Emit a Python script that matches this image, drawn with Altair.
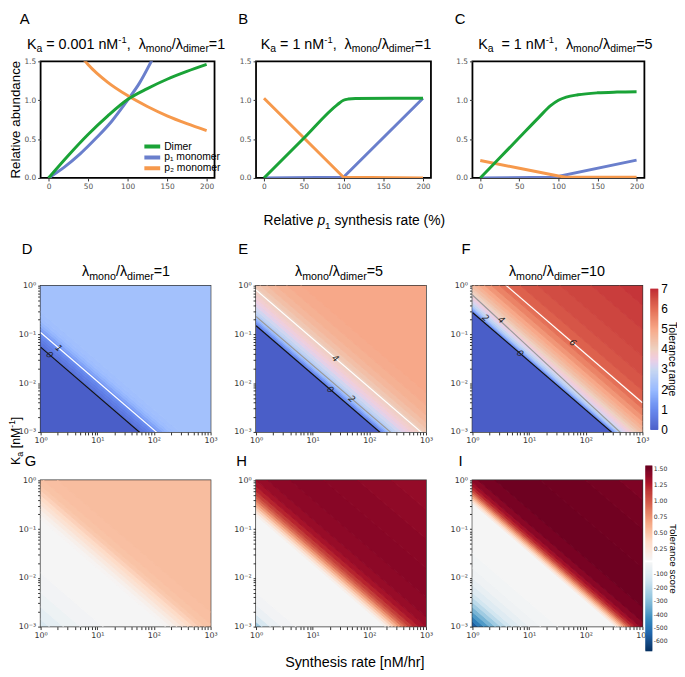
import altair as alt
import pandas as pd

FONT = "Liberation Sans"
TFONT = "DejaVu Sans"

# ================= Panels A-C : relative abundance =================
SERIES = ["Dimer", "p₁ monomer", "p₂ monomer"]
LINE_COLORS = ["#1aa337", "#6a7fcc", "#f6994c"]

A_dimer_rate = [0, 25, 50, 75, 100, 125, 150, 175, 200]
A_dimer = [0.0, 0.29, 0.56, 0.80, 1.01, 1.15, 1.27, 1.37, 1.46]
A_p1_rate = [0, 20, 40, 60, 80, 100, 115, 131]
A_p1 = [0.0, 0.14, 0.31, 0.51, 0.73, 1.00, 1.22, 1.52]
A_p2_rate = [45, 50, 75, 100, 125, 150, 175, 200]
A_p2 = [1.52, 1.46, 1.23, 1.06, 0.92, 0.80, 0.70, 0.61]

B_dimer_rate = [0, 50, 92, 100, 106, 115, 200]
B_dimer = [0.0, 0.51, 0.94, 1.0, 1.015, 1.022, 1.025]
B_p1_rate = [0, 100, 200]
B_p1 = [0.0, 0.01, 1.025]
B_p2_rate = [0, 100, 200]
B_p2 = [1.025, 0.01, 0.0]

C_dimer_rate = [0, 25, 50, 75, 90, 100, 110, 125, 150, 175, 200]
C_dimer = [0.0, 0.26, 0.52, 0.78, 0.93, 1.00, 1.04, 1.07, 1.095, 1.105, 1.11]
C_p1_rate = [0, 95, 200]
C_p1 = [0.0, 0.01, 0.23]
C_p2_rate = [0, 50, 100, 110, 200]
C_p2 = [0.225, 0.125, 0.025, 0.01, 0.01]

# ================= Panels D-F : tolerance range (bands along log-diagonal) =================
D_edges = [-3.1, -1.26, -1.20, -1.14, -1.08, -1.02, -0.96, -0.90, -0.84, -0.78, -0.72, -0.64, -0.54, 3.1]
D_vals = [0.0, 0.45, 0.6, 0.75, 0.9, 1.05, 1.3, 1.55, 1.8, 1.95, 2.08, 2.15, 2.2]
E_edges = [-3.1, -0.82, -0.78, -0.74, -0.70, -0.66, -0.62, -0.56, -0.50, -0.42, -0.34, -0.26, -0.18,
           -0.10, -0.02, 0.08, 0.20, 0.35, 0.55, 0.80, 3.1]
E_vals = [0.0, 0.7, 1.1, 1.5, 1.9, 2.3, 2.6, 2.85, 3.1, 3.35, 3.55, 3.75, 3.9, 4.05, 4.25, 4.45,
          4.65, 4.8, 4.92, 5.0]
F_edges = [-3.1, -0.55, -0.52, -0.49, -0.46, -0.43, -0.39, -0.34, -0.28, -0.22, -0.16, -0.10, -0.04,
           0.04, 0.12, 0.22, 0.34, 0.48, 0.64, 0.85, 1.15, 1.55, 2.1, 2.6, 3.1]
F_vals = [0.0, 0.7, 1.2, 1.7, 2.2, 2.6, 2.95, 3.25, 3.5, 3.75, 4.0, 4.25, 4.5, 4.75, 5.0, 5.3, 5.6,
          5.9, 6.15, 6.35, 6.5, 6.62, 6.74, 6.85]

D_cont_s = [-1.26, -0.96]
D_cont_lab = ["0", "1"]
D_cont_kind = ["zero", "high"]
E_cont_s = [-0.82, -0.63, -0.09]
E_cont_lab = ["0", "2", "4"]
E_cont_kind = ["zero", "mid", "high"]
F_cont_s = [-0.55, -0.43, -0.19, 0.60]
F_cont_lab = ["0", "2", "4", "6"]
F_cont_kind = ["zero", "mid", "mid", "high"]

# ================= Panels G-I : tolerance score =================
G_neg_edges = [-3.1, -2.85, -2.6, -2.3, -1.9, -0.8]
G_neg_vals = [-110, -70, -40, -25, -12]
G_pos_edges = [-0.8, -0.7, -0.6, -0.5, -0.4, -0.3, -0.2, -0.1, 0.05, 0.3, 3.1]
G_pos_vals = [0.1, 0.15, 0.22, 0.3, 0.37, 0.43, 0.48, 0.51, 0.53, 0.54]

H_neg_edges = [-3.1, -2.9, -2.75, -2.55, -2.3, -0.72]
H_neg_vals = [-250, -120, -50, -25, -12]
H_pos_edges = [-0.72, -0.66, -0.60, -0.54, -0.48, -0.42, -0.36, -0.30, -0.22, -0.12, 0.0, 0.2, 0.6,
               1.2, 1.8, 2.4, 3.1]
H_pos_vals = [0.15, 0.3, 0.45, 0.6, 0.75, 0.9, 1.02, 1.13, 1.23, 1.31, 1.37, 1.41, 1.43, 1.42, 1.40, 1.38]

I_neg_edges = [-3.1, -2.9, -2.8, -2.7, -2.6, -2.5, -2.4, -2.3, -2.15, -2.0, -1.8, -1.5, -0.47]
I_neg_vals = [-560, -470, -390, -320, -250, -190, -140, -95, -60, -35, -22, -12]
I_pos_edges = [-0.47, -0.43, -0.39, -0.35, -0.31, -0.27, -0.23, -0.18, -0.12, -0.04, 0.1, 0.4, 1.2,
               2.0, 2.6, 3.1]
I_pos_vals = [0.2, 0.35, 0.5, 0.65, 0.8, 0.95, 1.1, 1.23, 1.33, 1.42, 1.49, 1.53, 1.52, 1.5, 1.47]

# ================= scales / colours =================
CW_DOMAIN = [0, 1, 2, 3, 4, 5, 6, 7]
CW_RANGE = ["#4a5ec8", "#6788ee", "#9abbff", "#c9d7f0", "#edd1c2", "#f7a889", "#e26952", "#c02a35"]
POS_DOMAIN = [0.08, 0.376, 0.672, 0.968, 1.264, 1.56]
POS_RANGE = ["#f5f5f5", "#fddbc7", "#f4a582", "#d6604d", "#b2182b", "#67001f"]
NEG_DOMAIN = [-673, -540.8, -408.6, -276.4, -144.2, -12]
NEG_RANGE = ["#053061", "#2166ac", "#4393c3", "#92c5de", "#d1e5f0", "#f5f5f5"]
CONT_COLORS = {"zero": "#111111", "mid": "#9a9a9a", "high": "#ffffff"}

# colourbar tick labels
RANGE_TICKS = [0, 1, 2, 3, 4, 5, 6, 7]
POS_TICKS = [0.25, 0.5, 0.75, 1.0, 1.25, 1.5]
NEG_TICKS = [-100, -200, -300, -400, -500, -600]

# ---------------- geometry (layout only) ----------------
W_A, W_B, W_C, H_TOP = 176, 177, 174, 118
W_H, H_H = 172, 148

# ---------------- text helpers ----------------
CW_ = {' ': 278, '=': 584, '.': 278, ',': 278, '/': 278, '-': 333, '(': 333, ')': 333, '%': 889,
       '[': 278, ']': 278, 'K': 667, 'M': 833, 'R': 722, 'S': 667, 'T': 611, 'λ': 500,
       'a': 556, 'b': 556, 'c': 500, 'd': 556, 'e': 556, 'g': 556, 'h': 556, 'i': 222, 'l': 222,
       'm': 833, 'n': 556, 'o': 556, 'p': 556, 'r': 333, 's': 500, 't': 278, 'u': 556, 'v': 500,
       'y': 500}


def tw(t, size):
    return sum(CW_.get(c, 556) for c in t) * size / 1000.0


def text_chart(t, x, y, size, angle=0, italic=False, color="black", font=FONT):
    kw = dict(text=t, fontSize=size, font=font, align="left", baseline="alphabetic",
              color=color, fontStyle="italic" if italic else "normal")
    if angle:
        kw["angle"] = angle
    return alt.Chart(alt.Data(values=[{}])).mark_text(**kw).encode(x=alt.value(x), y=alt.value(y))


def segs(parts, cx, by, angle=0):
    total = sum(g + tw(t, s) for (t, s, sh, g, it) in parts)
    pos = -total / 2.0
    out = []
    for t, s, sh, g, it in parts:
        pos += g
        if angle == 0:
            x, y = cx + pos, by + sh
        elif angle == 270:
            x, y = by + sh, cx - pos
        else:
            x, y = by - sh, cx + pos
        out.append(text_chart(t, x, y, s, angle, it))
        pos += tw(t, s)
    return out


def ka_title(kval, ratio, big=14.5, small=10.5, extra=0.0):
    sp = big * 0.278
    return [("K", big, 0, 0, False), ("a", small, 4, 0, False),
            ("= " + kval + " nM", big, 0, sp + extra, False), ("-1", small - 1, -6, 0, False),
            (",", big, 0, 0, False), ("λ", big, 0, 2 * sp, False), ("mono", small, 4, 0, False),
            ("/λ", big, 0, 0, False), ("dimer", small, 4, 0, False), ("=" + ratio, big, 0, 0, False)]


def lam_title(ratio, big=14.5, small=10.8):
    return [("λ", big, 0, 0, False), ("mono", small, 4, 0, False), ("/λ", big, 0, 0, False),
            ("dimer", small, 4, 0, False), ("=" + ratio, big, 0, 0, False)]


def letter(t, x, y):
    return text_chart(t, x, y, 15)


# ---------------- line panels ----------------
def line_df(rates, vals):
    rows = []
    for name, xs, ys in zip(SERIES, rates, vals):
        for x, y in zip(xs, ys):
            rows.append({"series": name, "rate": x, "abund": y})
    return pd.DataFrame(rows)


def line_panel(df, width, mono_interp, legend, extra):
    xs = alt.Scale(domain=[-10, 210], nice=False, zero=False)
    ys = alt.Scale(domain=[0, 1.5], nice=False)
    xax = alt.Axis(values=[0, 50, 100, 150, 200], title=None, domain=False, tickSize=3,
                   tickColor="#333", labelFont=TFONT, labelFontSize=7.5, labelColor="#555",
                   labelPadding=2, grid=False, labelFlush=False)
    yax = alt.Axis(values=[0, 0.5, 1.0, 1.5], format=".1f", title=None, domain=False, tickSize=3,
                   tickColor="#333", labelFont=TFONT, labelFontSize=7.5, labelColor="#555",
                   labelPadding=2, grid=False, labelFlush=False)
    color = alt.Color("series:N", scale=alt.Scale(domain=SERIES, range=LINE_COLORS), legend=legend)
    enc = dict(x=alt.X("rate:Q", scale=xs, axis=xax), y=alt.Y("abund:Q", scale=ys, axis=yax), color=color)
    mono = alt.Chart(df).transform_filter(alt.datum.series != "Dimer").mark_line(
        strokeWidth=3, clip=True, interpolate=mono_interp).encode(**enc)
    dim = alt.Chart(df).transform_filter(alt.datum.series == "Dimer").mark_line(
        strokeWidth=3, clip=True, interpolate="monotone").encode(**enc)
    return alt.layer(mono, dim, *extra).properties(
        width=width, height=H_TOP, view=alt.ViewBackground(stroke="black", strokeWidth=1.8))


legendA = alt.Legend(orient="none", legendX=105, legendY=81, title=None, symbolType="M-1.8,0H1.8",
                     symbolStrokeWidth=4, symbolSize=100, labelFont=FONT, labelFontSize=10.5,
                     labelColor="black", rowPadding=0, padding=0, labelOffset=6, clipHeight=10.5)

dfA = line_df([A_dimer_rate, A_p1_rate, A_p2_rate], [A_dimer, A_p1, A_p2])
dfB = line_df([B_dimer_rate, B_p1_rate, B_p2_rate], [B_dimer, B_p1, B_p2])
dfC = line_df([C_dimer_rate, C_p1_rate, C_p2_rate], [C_dimer, C_p1, C_p2])

extraA = ([letter("A", -21, -38)] + segs(ka_title("0.001", "1"), 86.5, -13)
          + segs([("Relative abundance", 13.5, 0, 0, False)], 59, -21, angle=270))
extraB = ([letter("B", -18, -38)] + segs(ka_title("1", "1"), 91, -13)
          + segs([("Relative", 14, 0, 0, False), ("p", 14, 0, 3.9, True), ("1", 10, 4, 0, False),
                  ("synthesis rate (%)", 14, 0, 3.9, False)], 99.5, 166))
extraC = [letter("C", -18, -38)] + segs(ka_title("1", "5", extra=4.0), 94, -13)

panelA = line_panel(dfA, W_A, "monotone", legendA, extraA)
panelB = line_panel(dfB, W_B, "linear", None, extraB)
panelC = line_panel(dfC, W_C, "linear", None, extraC)

# ---------------- heat panels ----------------
XT = [m * 10 ** e for e in range(3) for m in range(1, 10)] + [1000]
YT = [m * 10.0 ** e for e in (-3, -2, -1) for m in range(1, 10)] + [1.0]
XLAB = ("datum.value == 1 ? '10⁰' : datum.value == 10 ? '10¹' : datum.value == 100 ? '10²' : "
        "datum.value == 1000 ? '10³' : ''")
YLAB = ("datum.value == 0.001 ? '10⁻³' : datum.value == 0.01 ? '10⁻²' : datum.value == 0.1 ? '10⁻¹' : "
        "datum.value == 1 ? '10⁰' : ''")
XLOG = alt.Scale(type="log", domain=[1, 1000], nice=False)
YLOG = alt.Scale(type="log", domain=[0.001, 1], nice=False)
XAX = alt.Axis(values=XT, labelExpr=XLAB, title=None, domain=False, tickSize=3, tickColor="#333",
               labelFont=TFONT, labelFontSize=8, labelColor="#333", labelPadding=2, grid=False,
               labelFlush=False, labelOverlap=False)
YAX = alt.Axis(values=YT, labelExpr=YLAB, title=None, domain=False, tickSize=3, tickColor="#333",
               labelFont=TFONT, labelFontSize=8, labelColor="#333", labelPadding=2, grid=False,
               labelFlush=False, labelOverlap=False)


def px_to_ka(p):
    # pixel offset from the top of a heat panel -> K_a on its log axis (layout helper)
    return 10 ** (-3.0 * p / H_H)


def band_df(edges, vals):
    rows = []
    for k, (lo, hi, v) in enumerate(zip(edges[:-1], edges[1:], vals)):
        for x in (1.0, 1000.0):
            rows.append({"band": k, "rate": x, "ka_hi": 10 ** hi / x, "ka_lo": 10 ** lo / x,
                         "v": v, "vs": v})
    return pd.DataFrame(rows)


def band_layer(edges, vals, domain, rng):
    sc = alt.Scale(domain=domain, range=rng)
    return alt.Chart(band_df(edges, vals)).mark_area(clip=True, interpolate="linear", strokeWidth=1.0).encode(
        x=alt.X("rate:Q", scale=XLOG, axis=XAX),
        y=alt.Y("ka_hi:Q", scale=YLOG, axis=YAX, stack=None),
        y2="ka_lo:Q",
        color=alt.Color("v:Q", scale=sc, legend=None),
        stroke=alt.Stroke("vs:Q", scale=sc, legend=None),
        detail="band:N")


def contour_layers(svals, labs, kinds, lab_logx):
    rows, lrows = [], []
    for s, lab, kind, lx in zip(svals, labs, kinds, lab_logx):
        for x in (1.0, 1000.0):
            rows.append({"kind": kind, "rate": x, "ka": 10 ** s / x})
        lrows.append({"lab": lab, "rate": 10 ** lx, "ka": 10 ** (s - lx)})
    cdf = pd.DataFrame(rows)
    out = []
    for kind, col in CONT_COLORS.items():
        if kind in kinds:
            out.append(alt.Chart(cdf).transform_filter(alt.datum.kind == kind).mark_line(
                clip=True, color=col, strokeWidth=1.2).encode(
                x=alt.X("rate:Q", scale=XLOG, axis=XAX), y=alt.Y("ka:Q", scale=YLOG, axis=YAX)))
    out.append(alt.Chart(pd.DataFrame(lrows)).mark_text(angle=41, fontSize=9, color="#222", font=TFONT,
                                                         fontStyle="italic").encode(
        x=alt.X("rate:Q", scale=XLOG, axis=XAX), y=alt.Y("ka:Q", scale=YLOG, axis=YAX), text="lab:N"))
    return out


def colorbar(lo_v, hi_v, n, domain, rng, p_lo, p_hi, x0, x1, ticks, fmt, font, fsize, color, lgap=3):
    # colour bar drawn inside the heat panel: value -> pixel (p_lo at lo_v, p_hi at hi_v)
    def vpx(v):
        return p_lo + (v - lo_v) / (hi_v - lo_v) * (p_hi - p_lo)
    step = (hi_v - lo_v) / n
    rows = []
    for i in range(n):
        a = lo_v + i * step
        b = min(hi_v, a + 1.7 * step)
        rows.append({"ka_a": px_to_ka(vpx(a)), "ka_b": px_to_ka(vpx(b)), "v": a + 0.5 * step})
    bar = alt.Chart(pd.DataFrame(rows)).mark_rect().encode(
        x=alt.value(x0), x2=alt.value(x1),
        y=alt.Y("ka_a:Q", scale=YLOG, axis=YAX), y2="ka_b:Q",
        color=alt.Color("v:Q", scale=alt.Scale(domain=domain, range=rng), legend=None))
    trows = [{"ka": px_to_ka(vpx(t)), "lab": format(t, fmt)} for t in ticks]
    labs = alt.Chart(pd.DataFrame(trows)).mark_text(align="left", baseline="middle", font=font,
                                                    fontSize=fsize, color=color).encode(
        x=alt.value(x1 + lgap), y=alt.Y("ka:Q", scale=YLOG, axis=YAX), text="lab:N")
    return [bar, labs]


HEAT_VIEW = alt.ViewBackground(stroke="#333", strokeWidth=1.5)

panelD = alt.layer(band_layer(D_edges, D_vals, CW_DOMAIN, CW_RANGE),
                   *contour_layers(D_cont_s, D_cont_lab, D_cont_kind, [0.16, 0.32]),
                   letter("D", -19, -32), *segs(lam_title("1"), 86.5, -10),
                   *segs([("K", 12.5, 0, 0, False), ("a", 9, 3, 0, False), ("[nM", 12.5, 0, 3.5, False),
                          ("-1", 8.5, -5, 0, False), ("]", 12.5, 0, 0, False)], 157, -21, angle=270)
                   ).properties(width=W_H, height=H_H, view=HEAT_VIEW)
panelE = alt.layer(band_layer(E_edges, E_vals, CW_DOMAIN, CW_RANGE),
                   *contour_layers(E_cont_s, E_cont_lab, E_cont_kind, [1.31, 1.69, 1.40]),
                   letter("E", -18, -32), *segs(lam_title("5"), 84, -10)
                   ).properties(width=W_H, height=H_H, view=HEAT_VIEW)
panelF = alt.layer(band_layer(F_edges, F_vals, CW_DOMAIN, CW_RANGE),
                   *contour_layers(F_cont_s, F_cont_lab, F_cont_kind, [0.84, 0.23, 0.51, 1.77]),
                   *colorbar(0, 7, 140, CW_DOMAIN, CW_RANGE, 146, 3, 180, 188, RANGE_TICKS, "d",
                             FONT, 12, "black"),
                   letter("F", -11, -32), *segs(lam_title("10"), 85.5, -10),
                   *segs([("Tolerance range", 10.5, 0, 0, False)], 75, 199, angle=90)
                   ).properties(width=W_H, height=H_H, view=HEAT_VIEW)


def score_panel(ne, nv, pe, pv, extra):
    neg = [band_layer(ne, nv, NEG_DOMAIN, NEG_RANGE)]
    pos = [band_layer(pe, pv, POS_DOMAIN, POS_RANGE)]
    if extra.get("bars"):
        neg += colorbar(-673, -12, 90, NEG_DOMAIN, NEG_RANGE, 173, 83, 175, 182, NEG_TICKS, "d",
                        TFONT, 6.2, "#333", lgap=1.5)
        pos += colorbar(0.08, 1.56, 90, POS_DOMAIN, POS_RANGE, 81, -15, 175, 182, POS_TICKS, ".2f",
                        TFONT, 6.2, "#333", lgap=1.5)
    neg_layer = alt.layer(*neg)
    pos_layer = alt.layer(*pos)
    return alt.layer(neg_layer, pos_layer, *extra["text"]).resolve_scale(
        color="independent", stroke="independent").properties(width=W_H, height=H_H, view=HEAT_VIEW)


panelG = score_panel(G_neg_edges, G_neg_vals, G_pos_edges, G_pos_vals, {"text": [letter("G", -16, -15)]})
panelH = score_panel(H_neg_edges, H_neg_vals, H_pos_edges, H_pos_vals,
                     {"text": [letter("H", -20, -15)]
                      + segs([("Synthesis rate [nM/hr]", 14.5, 0, 0, False)], 100, 189)})
panelI = score_panel(I_neg_edges, I_neg_vals, I_pos_edges, I_pos_vals,
                     {"bars": True,
                      "text": [letter("I", -14, -15)]
                      + segs([("Tolerance score", 10, 0, 0, False)], 80, 200, angle=90)})


def spacer():
    return alt.Chart(alt.Data(values=[{}])).mark_point(opacity=0).encode(
        x=alt.value(0), y=alt.value(0)).properties(width=W_H, height=11)


IND = dict(color="independent", stroke="independent", x="independent", y="independent")

chart = alt.concat(panelA, panelB, panelC,
                   spacer(), spacer(), spacer(),
                   panelD, panelE, panelF,
                   panelG, panelH, panelI,
                   columns=3, spacing={"row": 49, "column": 42}, bounds="flush", align="none"
                   ).resolve_scale(**IND).properties(
    autosize=alt.AutoSizeParams(type="none"),
    padding={"left": 33, "top": 50, "right": 644, "bottom": 619},
    background="white",
).configure_view(stroke=None)

chart.save("out.html", embed_options={"renderer": "svg", "actions": False})
